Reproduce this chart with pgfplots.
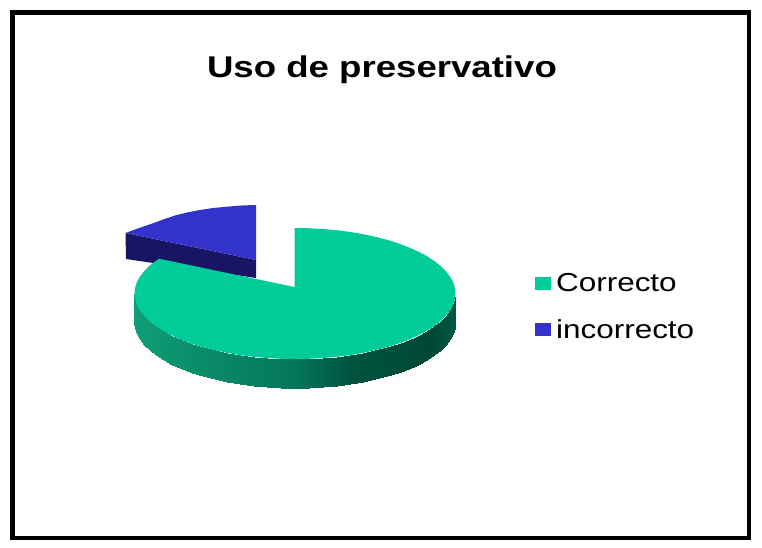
\documentclass[border=0pt]{standalone}
\usepackage{fontspec}
\setmainfont{Liberation Sans}
\usepackage{pgfplots}
\pgfplotsset{compat=1.18}
\definecolor{correcto}{RGB}{0,204,153}
\definecolor{incorrecto}{RGB}{51,51,204}
\definecolor{incorrectoside}{RGB}{25,20,100}

\begin{document}
\begin{tikzpicture}
\path[use as bounding box] (0,0) rectangle (762pt,547pt);
\begin{axis}[
    at={(0,0)}, anchor=south west,
    width=762pt, height=547pt, scale only axis,
    xmin=0, xmax=762, ymin=0, ymax=547,
    y dir=reverse,
    hide axis,
    clip=false,
    title={\scalebox{1.22}[1]{\fontsize{30}{30}\selectfont\bfseries Uso de preservativo}},
    title style={at={(0.5013,0.8465)}, anchor=base, inner sep=0pt},
    colormap={sidegreen}{rgb255(134pt)=(16,158,118) rgb255(200pt)=(10,140,105) rgb255(295pt)=(5,118,90) rgb255(350pt)=(0,84,63) rgb255(430pt)=(0,72,54) rgb255(456pt)=(0,88,66)},
    legend style={at={(axis cs:535,306.5)}, anchor=west, draw=none, fill=none, inner sep=0pt,
        row sep=22pt, font=\fontsize{26}{26}\selectfont, cells={anchor=west}},
    legend cell align=left,
    legend image code/.code={\fill[#1] (0pt,-5.75pt) rectangle (15pt,5.75pt);},
]
    \addlegendimage{correcto}
    \addlegendentry{\hspace{3.5pt}\scalebox{1.21}[1]{Correcto}}
    \addlegendimage{incorrecto}
    \addlegendentry{\hspace{3.5pt}\scalebox{1.21}[1]{incorrecto}}

    % outer frame
    \addplot[forget plot, black, line width=4.2pt] coordinates {
        (12.5,12.5) (749,12.5) (749,538) (12.5,538) (12.5,12.5)
    } -- cycle;

    % incorrecto: side, then top
    \addplot[forget plot, fill=incorrectoside, draw=none] coordinates {
        (125.5,233) (256,260) (256,278) (126,259)
    } -- cycle;
    \addplot[forget plot, fill=incorrecto, draw=none] coordinates {
        (256,260) (256,205) (241,205.5) (226.7,206.7) (213,208) (200,210) (188,212.3)
        (176.7,215) (165,218.8) (153,223.3) (139,228) (125.5,233)
    } -- cycle;

    % correcto: front wall
    \addplot[forget plot, patch, patch type=rectangle, shader=interp, point meta=x] coordinates {
        (455.5,293.5) (455.5,322.5) (454.9,328.2) (454.9,299.2)
        (454.9,299.2) (454.9,328.2) (453.1,333.9) (453.1,304.9)
        (453.1,304.9) (453.1,333.9) (450,339.45) (450,310.45)
        (450,310.45) (450,339.45) (445.8,344.9) (445.8,315.9)
        (445.8,315.9) (445.8,344.9) (440.5,350.2) (440.5,321.2)
        (440.5,321.2) (440.5,350.2) (434,355.25) (434,326.25)
        (434,326.25) (434,355.25) (426.5,360.07) (426.5,331.07)
        (426.5,331.07) (426.5,360.07) (417.9,364.6) (417.9,335.6)
        (417.9,335.6) (417.9,364.6) (408.5,368.8) (408.5,339.8)
        (408.5,339.8) (408.5,368.8) (398.2,372.7) (398.2,343.7)
        (398.2,343.7) (398.2,372.7) (387.1,376.2) (387.1,347.2)
        (387.1,347.2) (387.1,376.2) (375.3,379.2) (375.3,350.2)
        (375.3,350.2) (375.3,379.2) (362.8,381.9) (362.8,352.9)
        (362.8,352.9) (362.8,381.9) (349.9,384.1) (349.9,355.1)
        (349.9,355.1) (349.9,384.1) (336.5,385.8) (336.5,356.8)
        (336.5,356.8) (336.5,385.8) (322.9,387) (322.9,358)
        (322.9,358) (322.9,387) (309,387.75) (309,358.75)
        (309,358.75) (309,387.75) (295,388) (295,359)
        (295,359) (295,388) (281,387.75) (281,358.75)
        (281,358.75) (281,387.75) (267.1,387) (267.1,358)
        (267.1,358) (267.1,387) (253.5,385.8) (253.5,356.8)
        (253.5,356.8) (253.5,385.8) (240.1,384.1) (240.1,355.1)
        (240.1,355.1) (240.1,384.1) (227.2,381.9) (227.2,352.9)
        (227.2,352.9) (227.2,381.9) (214.7,379.2) (214.7,350.2)
        (214.7,350.2) (214.7,379.2) (202.9,376.2) (202.9,347.2)
        (202.9,347.2) (202.9,376.2) (191.8,372.7) (191.8,343.7)
        (191.8,343.7) (191.8,372.7) (181.5,368.8) (181.5,339.8)
        (181.5,339.8) (181.5,368.8) (172.1,364.6) (172.1,335.6)
        (172.1,335.6) (172.1,364.6) (163.5,360.07) (163.5,331.07)
        (163.5,331.07) (163.5,360.07) (156,355.25) (156,326.25)
        (156,326.25) (156,355.25) (149.5,350.2) (149.5,321.2)
        (149.5,321.2) (149.5,350.2) (144.2,344.9) (144.2,315.9)
        (144.2,315.9) (144.2,344.9) (140,339.45) (140,310.45)
        (140,310.45) (140,339.45) (136.9,333.9) (136.9,304.9)
        (136.9,304.9) (136.9,333.9) (135.1,328.2) (135.1,299.2)
        (135.1,299.2) (135.1,328.2) (134.5,322.5) (134.5,293.5)
    };

    % correcto: top
    \addplot[forget plot, fill=correcto, draw=none] coordinates {
        (294.5,287) (294.5,228) (309,228.25) (322.9,229) (336.5,230.2) (349.9,231.9)
        (362.8,234.1) (375.3,236.8) (387.1,239.8) (398.2,243.3) (408.5,247.2)
        (417.9,251.4) (426.5,255.9) (434,260.75) (440.5,265.8) (445.8,271.1)
        (450,276.55) (453.1,282.1) (454.9,287.8) (455.5,293.5)
        (454.9,299.2) (453.1,304.9) (450,310.45) (445.8,315.9) (440.5,321.2)
        (434,326.25) (426.5,331.07) (417.9,335.6) (408.5,339.8) (398.2,343.7)
        (387.1,347.2) (375.3,350.2) (362.8,352.9) (349.9,355.1) (336.5,356.8)
        (322.9,358) (309,358.75) (295,359) (281,358.75) (267.1,358) (253.5,356.8)
        (240.1,355.1) (227.2,352.9) (214.7,350.2) (202.9,347.2) (191.8,343.7)
        (181.5,339.8) (172.1,335.6) (163.5,331.07) (156,326.25) (149.5,321.2)
        (144.2,315.9) (140,310.45) (136.9,304.9) (135.1,299.2) (134.5,293.5)
        (135.1,287.8) (136.9,282.1) (140,276.55) (144.2,271.1) (149.5,265.8)
        (156,260.75) (159,258.7)
    } -- cycle;
\end{axis}
\end{tikzpicture}
\end{document}
